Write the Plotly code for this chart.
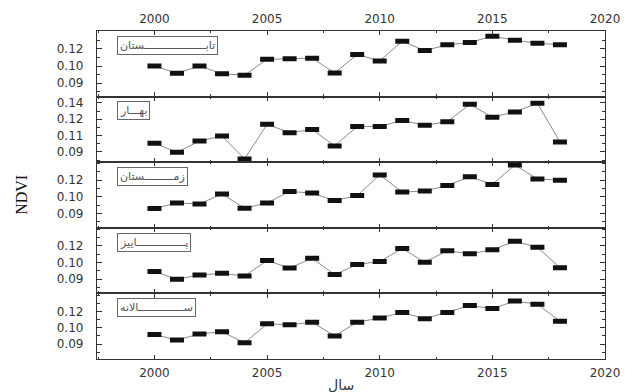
import plotly.graph_objects as go

# Seasonal and annual mean NDVI, 2000-2018
years = list(range(2000, 2019))
summer = [0.1000, 0.0958, 0.1000, 0.0955, 0.0947, 0.1039, 0.1042, 0.1046, 0.0960, 0.1067,
          0.1030, 0.1144, 0.1090, 0.1124, 0.1137, 0.1174, 0.1150, 0.1133, 0.1124]
spring = [0.0953, 0.0898, 0.0967, 0.0997, 0.0857, 0.1069, 0.1018, 0.1037, 0.0937, 0.1056,
          0.1056, 0.1093, 0.1063, 0.1085, 0.1192, 0.1113, 0.1145, 0.1198, 0.0961]
winter = [0.0931, 0.0964, 0.0958, 0.1018, 0.0932, 0.0964, 0.1033, 0.1023, 0.0978, 0.1008,
          0.1132, 0.1029, 0.1035, 0.1069, 0.1121, 0.1075, 0.1191, 0.1108, 0.1100]
autumn = [0.0946, 0.0900, 0.0925, 0.0935, 0.0919, 0.1012, 0.0967, 0.1025, 0.0928, 0.0988,
          0.1006, 0.1084, 0.1002, 0.1071, 0.1052, 0.1077, 0.1127, 0.1092, 0.0969]
annual = [0.0958, 0.0925, 0.0962, 0.0976, 0.0908, 0.1024, 0.1018, 0.1034, 0.0950, 0.1034,
          0.1059, 0.1094, 0.1055, 0.1094, 0.1136, 0.1117, 0.1163, 0.1144, 0.1040]

panel_names = ["تابـــــــــــــــــــستان", "بهـــار", "زمـــــــــستان",
               "پـــــــــــــــاییز", "ســــــــــــــالانه"]
panel_series = [summer, spring, winter, autumn, annual]

tick_vals_3 = [0.09, 0.10, 0.11]
tick_text_3 = ["0.09", "0.10", "0.12"]
tick_vals_4 = [0.09, 0.10, 0.11, 0.12]
tick_text_4 = ["0.09", "0.11", "0.12", "0.14"]
panel_ticks = [(tick_vals_3, tick_text_3), (tick_vals_4, tick_text_4),
               (tick_vals_3, tick_text_3), (tick_vals_3, tick_text_3),
               (tick_vals_3, tick_text_3)]
panel_ranges = [[0.0822, 0.1204], [0.0837, 0.1239], [0.0815, 0.1208],
                [0.0815, 0.1208], [0.0809, 0.1210]]

x_tick_vals = [2000, 2005, 2010, 2015, 2020]
x_range = [1997.45, 2020]

W, H = 632, 392
M_L, M_R, M_T, M_B = 97, 15, 23, 28
n = len(panel_series)

fig = go.Figure()
tick_font = dict(family="DejaVu Sans", size=12, color="#333")
axis_col = "#333"

for i, (vals, name) in enumerate(zip(panel_series, panel_names)):
    k = i + 1
    xa = "x" if k == 1 else f"x{k}"
    ya = "y" if k == 1 else f"y{k}"
    fig.add_trace(go.Scatter(
        x=years, y=vals, xaxis=xa, yaxis=ya, mode="lines+markers",
        line=dict(color="#8a8a8a", width=1),
        marker=dict(symbol="line-ew", size=10, color="#111",
                    line=dict(color="#111", width=5)),
        showlegend=False, hoverinfo="x+y"))

    top = 1 - i / n
    bot = 1 - (i + 1) / n
    tv, tt = panel_ticks[i]
    xkey = "xaxis" if k == 1 else f"xaxis{k}"
    ykey = "yaxis" if k == 1 else f"yaxis{k}"
    show_x = k in (1, n)
    fig.update_layout(**{
        xkey: dict(domain=[0, 1], anchor=ya, range=x_range, tickvals=x_tick_vals,
                   ticktext=[str(v) for v in x_tick_vals],
                   showticklabels=show_x, side="top" if k == 1 else "bottom",
                   ticks="inside", ticklen=4, tickwidth=1.2, tickcolor=axis_col,
                   minor=dict(ticks="inside", dtick=2.5, tick0=2000, ticklen=2,
                              tickcolor=axis_col),
                   showline=True, linecolor=axis_col, linewidth=1.3, mirror="ticks",
                   showgrid=False, zeroline=False, tickfont=tick_font,
                   ticklabelstandoff=2, ticklabeloverflow="allow",
                   matches=None if k == 1 else "x"),
        ykey: dict(domain=[bot, top], anchor=xa, range=panel_ranges[i],
                   tickvals=tv, ticktext=tt, ticks="inside", ticklen=5, tickwidth=1,
                   tickcolor=axis_col,
                   minor=dict(ticks="inside", dtick=0.005, tick0=0.09, ticklen=3,
                              tickcolor=axis_col),
                   showline=True, linecolor=axis_col, linewidth=1.3, mirror="ticks",
                   showgrid=False, zeroline=False, tickfont=tick_font,
                   ticklabelstandoff=10),
    })
    fig.add_annotation(
        text=name, xref=f"{xa} domain", yref=f"{ya} domain",
        x=0.04, y=1 - 5 / 68, xanchor="left", yanchor="top", showarrow=False,
        font=dict(family="DejaVu Sans", size=11, color="#555"),
        bordercolor="#666", borderwidth=1, borderpad=2, bgcolor="white")

# Axis titles
fig.add_annotation(text="NDVI", xref="paper", yref="paper", x=-0.15, y=0.5,
                   textangle=-90, showarrow=False, xanchor="center", yanchor="middle",
                   font=dict(family="Liberation Serif", size=16, color="#111"))
fig.add_annotation(text="سال", xref="paper", yref="paper", x=0.48, y=0,
                   yshift=-M_B - 8, yanchor="bottom", showarrow=False,
                   font=dict(family="DejaVu Sans", size=14, color="#333"))

fig.update_layout(width=W, height=H, margin=dict(l=M_L, r=M_R, t=M_T, b=M_B),
                  paper_bgcolor="white", plot_bgcolor="white")

fig.write_html("out.html")
